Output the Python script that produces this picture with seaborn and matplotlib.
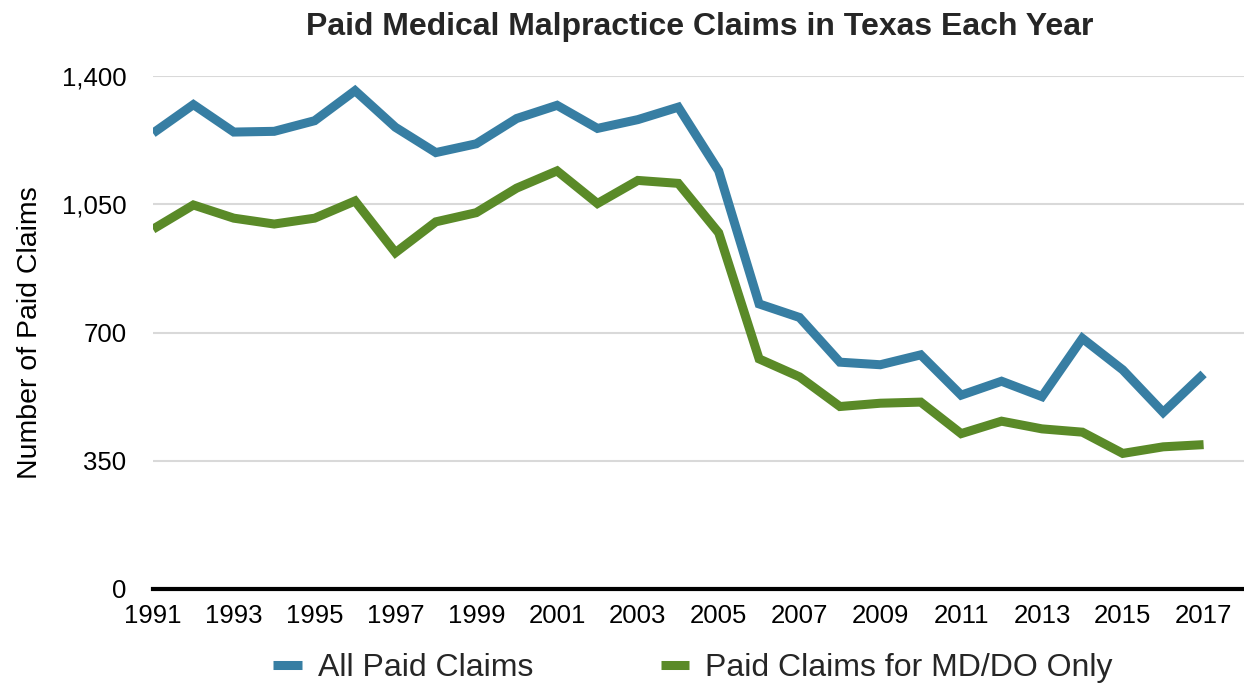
import matplotlib
matplotlib.use("Agg")
import matplotlib.pyplot as plt
import seaborn as sns
import pandas as pd
from matplotlib.ticker import FuncFormatter

years = list(range(1991, 2018))
all_claims = [1244, 1322, 1247, 1249, 1278, 1360, 1260, 1191, 1215, 1284,
              1320, 1257, 1281, 1315, 1141, 778, 741, 619, 612, 639,
              529, 567, 525, 684, 598, 482, 587]
md_do_claims = [982, 1048, 1012, 996, 1012, 1059, 918, 1002, 1027, 1094,
                1141, 1052, 1115, 1107, 972, 628, 579, 498, 507, 510,
                424, 458, 437, 428, 370, 388, 394]
series_names = ["All Paid Claims", "Paid Claims for MD/DO Only"]
y_ticks = [0, 350, 700, 1050, 1400]
x_ticks = list(range(1991, 2018, 2))

df = pd.DataFrame({"year": years,
                   series_names[0]: all_claims,
                   series_names[1]: md_do_claims})
long = df.melt(id_vars="year", var_name="series", value_name="claims")

sns.set_style("white")
plt.rcParams["font.family"] = ["Liberation Sans", "DejaVu Sans"]

palette = {series_names[0]: "#377EA3", series_names[1]: "#5A8A28"}

fig = plt.figure(figsize=(12.44, 6.87), dpi=100)
ax = fig.add_axes([153 / 1244, 1 - 589 / 687, 1 - 153 / 1244, (589 - 76) / 687])

sns.lineplot(data=long, x="year", y="claims", hue="series", palette=palette,
             linewidth=6.5, ax=ax, legend=False)
for line in ax.get_lines():
    line.set_solid_capstyle("butt")
    line.set_solid_joinstyle("miter")

ax.set_xlim(1991, 2018)
ax.set_ylim(0, 1400)
ax.set_yticks(y_ticks)
ax.set_xticks(x_ticks)
ax.yaxis.set_major_formatter(FuncFormatter(lambda v, p: f"{int(v):,}"))
ax.tick_params(axis="both", length=0, labelsize=18.5, colors="black")
ax.tick_params(axis="y", pad=19)
ax.tick_params(axis="x", pad=11)

ax.grid(axis="y", color="#d9d9d9", linewidth=1.5)
ax.set_axisbelow(True)
for s in ["top", "right", "left"]:
    ax.spines[s].set_visible(False)
ax.spines["bottom"].set_color("black")
ax.spines["bottom"].set_linewidth(3)
ax.spines["bottom"].set_zorder(5)

ax.set_xlabel("")
ax.set_ylabel("Number of Paid Claims", fontsize=20.5, labelpad=14, color="black")
fig.text(0.5627, 0.961, "Paid Medical Malpractice Claims in Texas Each Year",
         ha="center", va="center", fontsize=23, fontweight="bold")

handles = [plt.Line2D([], [], color=palette[n], linewidth=6.5,
                      solid_capstyle="butt") for n in series_names]
fig.legend(handles, series_names, loc="center", ncol=2, frameon=False,
           fontsize=23, handlelength=0.9, handletextpad=0.5,
           columnspacing=4.0, bbox_to_anchor=(0.557, 0.028))

fig.savefig("out.png", dpi=100)
